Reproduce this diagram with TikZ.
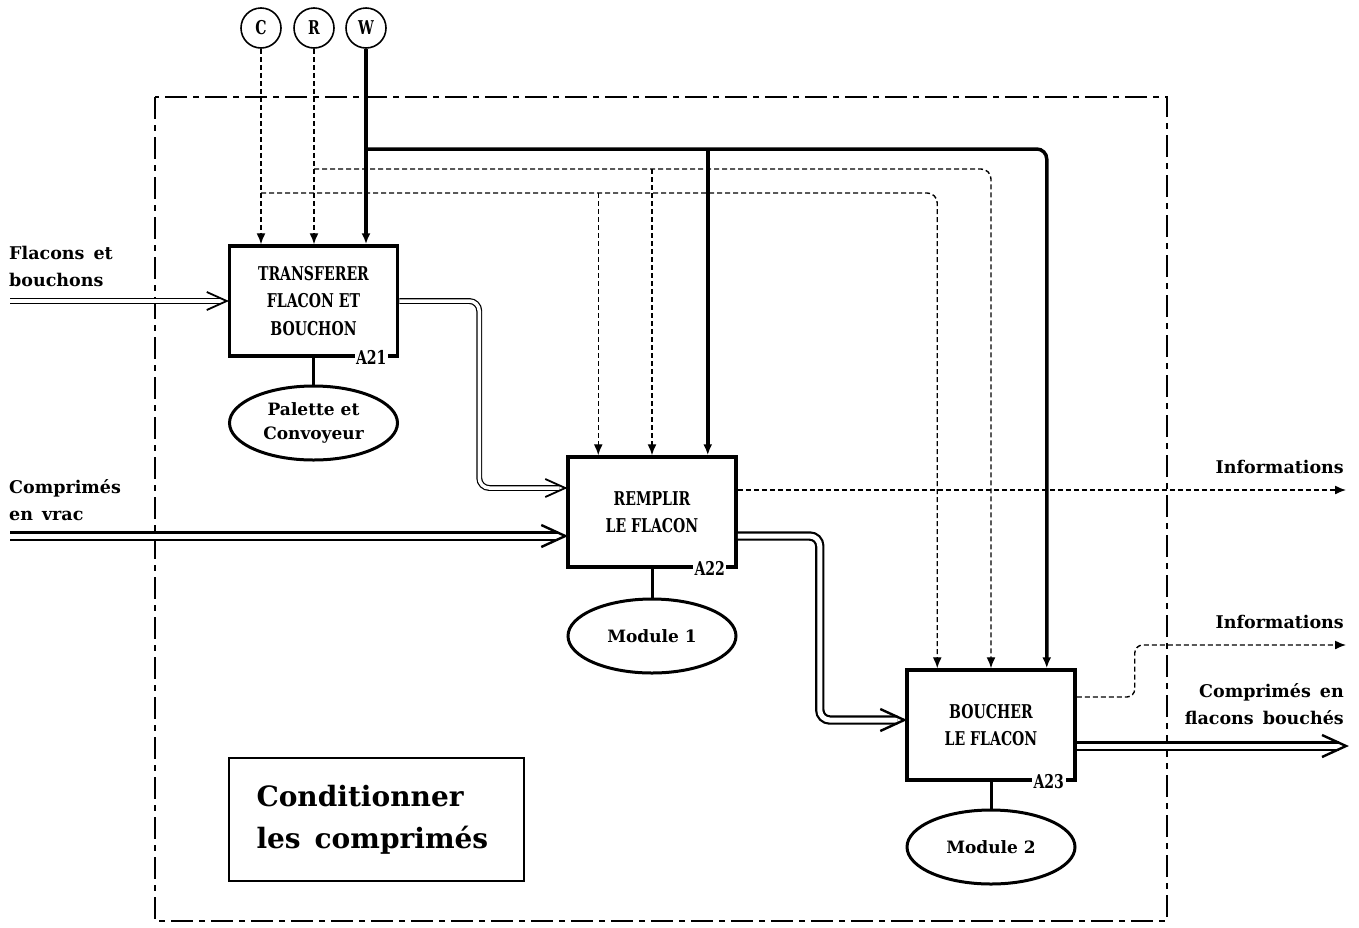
\documentclass[tikz,border=0pt]{standalone}
\usepackage{fontspec}
\setmainfont{DejaVu Serif}
\newfontfamily\condfont[FakeStretch=0.74]{DejaVu Serif}
\usetikzlibrary{arrows.meta,shapes.geometric,calc}
\newcommand\chevr[4]{\draw[#4] ($(#1)+(-#2,-#3)$) -- (#1) -- ($(#1)+(-#2,#3)$);}
\begin{document}
\begin{tikzpicture}[x=1pt,y=-1pt,
  every node/.style={font=\bfseries},
  func/.style={draw,line width=3.5pt,minimum width=168pt,minimum height=110pt,inner sep=0pt,align=center,font=\condfont\bfseries\fontsize{19}{27.5}\selectfont},
  mech/.style={draw,ellipse,line width=3pt,minimum width=168pt,minimum height=74pt,inner sep=0pt,align=center,font=\bfseries\fontsize{17}{24}\selectfont},
  ctrl/.style={draw,circle,line width=1.6pt,minimum size=40pt,inner sep=0pt,font=\condfont\bfseries\fontsize{19}{20}\selectfont},
  lbl/.style={font=\bfseries\fontsize{17.5}{27}\selectfont,inner sep=0pt},
  tag/.style={fill=white,inner sep=1.5pt,font=\condfont\bfseries\fontsize{19}{19}\selectfont},
  dsh/.style={line width=1.4pt,dash pattern=on 5pt off 3pt},
  thk/.style={line width=3.5pt},
  arr/.style={-{Latex[length=11pt,width=9pt]}},
  dbl/.style={double,line width=1.2pt,double distance=3.5pt},
  dblk/.style={double,line width=2.2pt,double distance=5pt},
  chv/.style={line width=1.8pt,line join=miter},
  chvk/.style={line width=2.4pt,line join=miter},
  boundary/.style={line width=2.2pt,dash pattern=on 22pt off 6pt on 6pt off 6pt},
]
\useasboundingbox (0,0) rectangle (1359,927);
\draw[boundary] (155,97) rectangle (1167,921);

% controls
\node[ctrl] (C) at (261,28) {C};
\node[ctrl] (R) at (314,28) {R};
\node[ctrl] (W) at (366,28) {W};

% functions
\node[func] (A21) at (313.5,301) {TRANSFERER\\FLACON ET\\BOUCHON};
\node[func] (A22) at (652,512) {REMPLIR\\LE FLACON};
\node[func] (A23) at (991,725) {BOUCHER\\LE FLACON};
\node[tag] (t21) at ($(A21.south east)+(-28,0)$) {A21};
\node[tag] (t22) at ($(A22.south east)+(-28,0)$) {A22};
\node[tag] (t23) at ($(A23.south east)+(-28,0)$) {A23};

% mechanisms
\node[mech] (M21) at (313.5,423) {Palette et\\Convoyeur};
\node[mech] (M22) at (652,636) {Module 1};
\node[mech] (M23) at (991,847) {Module 2};
\draw[line width=3pt] (A21) -- (M21);
\draw[line width=3pt] (A22) -- (M22);
\draw[line width=3pt] (A23) -- (M23);

% control lines
\coordinate (wj) at (366,149);
\coordinate (rj) at (314,169);
\coordinate (cj) at (261,193);
\coordinate (a22c) at ($(A22.north west)+(32,0)$);
\coordinate (a22r) at (A22.north);
\coordinate (a22w) at ($(A22.north east)+(-30,0)$);
\coordinate (a23c) at ($(A23.north west)+(32,0)$);
\coordinate (a23r) at (A23.north);
\coordinate (a23w) at ($(A23.north east)+(-30,0)$);

\draw[dsh,arr] (C) -- (C |- A21.north);
\draw[dsh,arr] (R) -- (R |- A21.north);
\draw[thk,arr] (W) -- (W |- A21.north);

\draw[thk,arr,rounded corners=10pt] (wj) -| (a23w);
\draw[dsh,arr,rounded corners=10pt] (rj) -| (a23r);
\draw[dsh,arr,rounded corners=10pt] (cj) -| (a23c);
\draw[thk,arr] (a22w |- wj) -- (a22w);
\draw[dsh,arr] (a22r |- rj) -- (a22r);
\draw[dsh,arr] (a22c |- cj) -- (a22c);

% inputs
\node[lbl,anchor=west,align=left] (in1) at (9,266) {Flacons \,et\\bouchons};
\node[lbl,anchor=west,align=left] (in2) at (9,500) {Comprimés\\en \,vrac};
\coordinate (s1) at (10,301);
\coordinate (s2) at (10,536);
\coordinate (e1) at ($(A21.west)+(-1,0)$);
\coordinate (e2) at ($(A22.west)+(-1,-24)$);
\coordinate (e3) at ($(A22.west)+(-1,24)$);
\coordinate (e4) at ($(A23.west)+(-1,-5)$);
\draw[dbl] (s1) -- ($(e1)+(-6,0)$);
\chevr{e1}{20}{9}{chv}
\draw[dblk] (s2) -- ($(e3)+(-7,0)$);
\chevr{e3}{24}{11}{chvk}
\draw[dbl,rounded corners=10pt] (A21.east) -- ++(80,0) |- ($(e2)+(-6,0)$);
\chevr{e2}{20}{9}{chv}
\draw[dblk,rounded corners=10pt] ($(A22.east)+(0,24)$) -- ++(82,0) |- ($(e4)+(-7,0)$);
\chevr{e4}{24}{11}{chvk}

% outputs
\coordinate (o1) at (1346,490);
\coordinate (o2) at (1346,645);
\coordinate (o3) at (1346,746);
\draw[dsh,arr] ($(A22.east)+(0,-22)$) -- (o1);
\draw[dsh,arr,rounded corners=8pt] ($(A23.east)+(0,-28)$) -- ++(58,0) |- (o2);
\draw[dblk] ($(A23.east)+(0,21)$) -- ($(o3)+(-7,0)$);
\chevr{o3}{24}{11}{chvk}
\node[lbl,anchor=east] (info1) at (1344,467) {Informations};
\node[lbl,anchor=east] (info2) at (1344,622) {Informations};
\node[lbl,anchor=east,align=right] (out) at (1344,704) {Comprimés \,en\\flacons \,bouchés};

% title
\node[draw,line width=1.3pt,minimum width=295pt,minimum height=123pt,text width=240pt,align=left,inner sep=0pt,font=\bfseries\fontsize{28}{42}\selectfont] (T) at (376.5,819.5) {Conditionner\\les \,comprimés};
\end{tikzpicture}
\end{document}
